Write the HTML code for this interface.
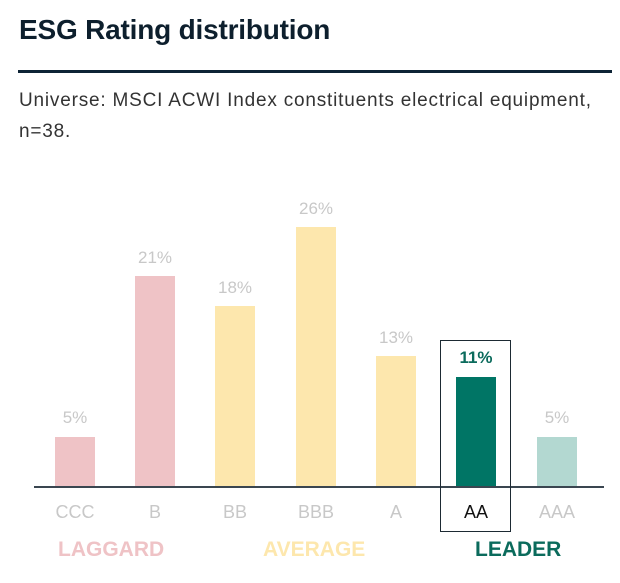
<!DOCTYPE html>
<html><head><style>
body{margin:0;width:620px;height:583px;background:#fff;font-family:"Liberation Sans",sans-serif;position:relative;overflow:hidden}
.a{position:absolute}
.b{position:absolute;width:40px}
.p{position:absolute;width:80px;text-align:center;font-size:17px;color:#c8c8c8}
.l{position:absolute;width:80px;text-align:center;font-size:18px;color:#c8c8c8;top:502px}
.g{position:absolute;font-weight:bold;font-size:21px;letter-spacing:0px;top:538px}
</style></head><body>
<div class="a" style="left:19px;top:14px;font-size:28px;font-weight:bold;color:#0d1f2d;letter-spacing:-0.2px">ESG Rating distribution</div>
<div class="a" style="left:18px;top:70px;width:594px;height:3px;background:#0d2335"></div>
<div class="a" style="left:19px;top:85px;font-size:19px;color:#333;line-height:31px;letter-spacing:0.8px">Universe: MSCI ACWI Index constituents electrical equipment,<br>n=38.</div>

<div class="b" style="left:55px;top:437px;height:50px;background:#efc3c6"></div>
<div class="b" style="left:135px;top:276px;height:211px;background:#efc3c6"></div>
<div class="b" style="left:215px;top:306px;height:181px;background:#fde7ad"></div>
<div class="b" style="left:296px;top:227px;height:260px;background:#fde7ad"></div>
<div class="b" style="left:376px;top:356px;height:131px;background:#fde7ad"></div>
<div class="b" style="left:456px;top:377px;height:110px;background:#007565"></div>
<div class="b" style="left:537px;top:437px;height:50px;background:#b3d8d1"></div>

<div class="p" style="left:35px;top:408px">5%</div>
<div class="p" style="left:115px;top:248px">21%</div>
<div class="p" style="left:195px;top:278px">18%</div>
<div class="p" style="left:276px;top:199px">26%</div>
<div class="p" style="left:356px;top:328px">13%</div>
<div class="p" style="left:436px;top:348px;color:#0b6b5c;font-weight:bold">11%</div>
<div class="p" style="left:517px;top:408px">5%</div>

<div class="a" style="left:34px;top:486px;width:570px;height:2px;background:#3a4650"></div>
<div class="a" style="left:440px;top:340px;width:69px;height:190px;border:1.5px solid #1d2a33"></div>

<div class="l" style="left:35px">CCC</div>
<div class="l" style="left:115px">B</div>
<div class="l" style="left:195px">BB</div>
<div class="l" style="left:276px">BBB</div>
<div class="l" style="left:356px">A</div>
<div class="l" style="left:436px;color:#111">AA</div>
<div class="l" style="left:517px">AAA</div>

<div class="g" style="left:58px;color:#efc3c6">LAGGARD</div>
<div class="g" style="left:263px;color:#fde7ad">AVERAGE</div>
<div class="g" style="left:475px;color:#0b6b5c">LEADER</div>
</body></html>
